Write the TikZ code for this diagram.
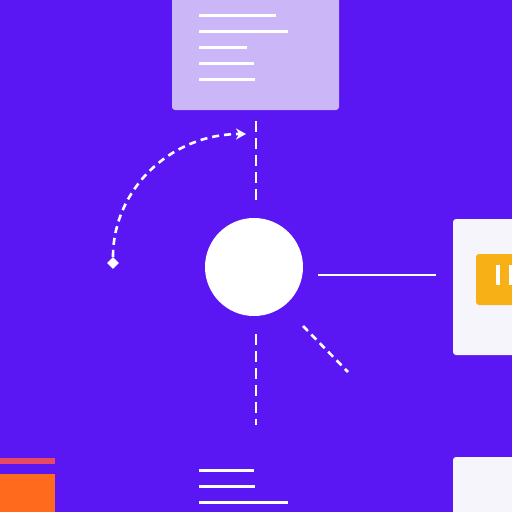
\documentclass[tikz,border=0pt]{standalone}
\usepackage{tikz}
\usetikzlibrary{calc}
\usetikzlibrary{shapes.geometric}
\usetikzlibrary{arrows.meta}
\definecolor{bgviolet}{RGB}{90,22,243}
\definecolor{cardlilac}{RGB}{203,183,248}
\definecolor{cardwhite}{RGB}{246,245,252}
\definecolor{tagorange}{RGB}{247,176,22}
\definecolor{blockorange}{RGB}{255,106,28}
\definecolor{stripered}{RGB}{232,72,98}
\newcommand{\textrule}[3]{ \draw[white, line width=3pt] ( #1 , #3 ) -- ( #2 , #3 );}
\tikzset{
  dashline/.style={white, line width=2.2pt, dash pattern=on 11pt off 6pt},
  card/.style={rounded corners=3pt}
}
\begin{document}
\begin{tikzpicture}[x=1pt,y=-1pt]
    \fill[bgviolet] ( 0 , 0 ) rectangle ( 512 , 512 );
    \useasboundingbox ( 0 , 0 ) rectangle ( 512 , 512 );
    % top card
    \fill[cardlilac,card] ( 172 , -5 ) rectangle ( 339 , 110 );
    \textrule{199}{276}{15}
    \textrule{199}{288}{31}
    \textrule{199}{247}{47}
    \textrule{199}{254}{63}
    \textrule{199}{255}{79}
    % hub
    \node[shape=circle,fill=white,inner sep=0pt,minimum size=98pt] (hub) at ( 254 , 267 ){};
    % dashed spokes
    \coordinate (topA) at ( 256 , 121 );
    \coordinate (topB) at ( 256 , 203 );
    \draw[dashline] (topA) -- (topB);
    \coordinate (botA) at ( 256 , 334 );
    \coordinate (botB) at ( 256 , 425 );
    \draw[dashline] (botA) -- (botB);
    \coordinate (diagA) at ( 303 , 326 );
    \coordinate (diagB) at ( 348 , 372 );
    \draw[dashline, line width=2.6pt, dash pattern=on 7pt off 5pt] (diagA) -- (diagB);
    % solid spoke
    \coordinate (rightA) at ( 318 , 275 );
    \coordinate (rightB) at ( 436 , 275 );
    \draw[white, line width=2.4pt] (rightA) -- (rightB);
    % arc
    \node[shape=diamond,fill=white,inner sep=0pt,minimum size=12pt] (start) at ( 113 , 263 ){};
    \coordinate (tip) at ( 246 , 134 );
    \draw[dashline, line width=2.6pt, dash pattern=on 7pt off 5pt, -{Stealth[length=10pt,width=11pt]}] (start) .. controls ( 113 , 190 ) and ( 170 , 134 ) .. (tip);
    % right card
    \fill[cardwhite,card] ( 453 , 219 ) rectangle ( 520 , 355 );
    \fill[tagorange,rounded corners=3pt] ( 476 , 254 ) rectangle ( 520 , 305 );
    \fill[white] ( 496 , 265 ) rectangle ( 500 , 285 );
    \fill[white] ( 509 , 265 ) rectangle ( 513 , 285 );
    % bottom right card
    \fill[cardwhite,card] ( 453 , 457 ) rectangle ( 520 , 520 );
    % bottom left block
    \fill[stripered] ( -5 , 458 ) rectangle ( 55 , 464 );
    \fill[blockorange] ( -5 , 474 ) rectangle ( 55 , 520 );
    % bottom lines
    \textrule{199}{254}{470}
    \textrule{199}{255}{486}
    \textrule{199}{288}{502}
\end{tikzpicture}
\end{document}
